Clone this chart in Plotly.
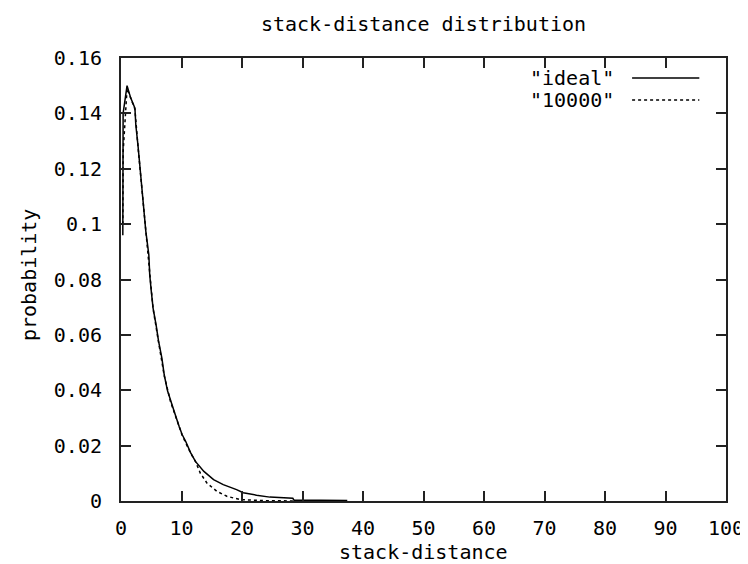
import plotly.graph_objects as go

# ---- data ----
ideal_x = [0.3, 0.35, 1.0, 1.6, 2.3, 2.45, 2.8, 3.1, 3.4, 3.8, 4.1, 4.6, 4.75, 5.0, 5.3,
           5.8, 6.2, 6.75, 7.15, 7.7, 8.2, 9.0, 9.6, 10.1, 10.7, 11.5, 12.3, 13.7, 15.3,
           16.9, 19.1, 20.2, 22.4, 24.6, 28.4, 28.6, 33.0, 37.4]
ideal_y = [0.096, 0.140, 0.150, 0.1456, 0.1419, 0.1358, 0.1286, 0.1214, 0.1141, 0.1047,
           0.0975, 0.0889, 0.0816, 0.0759, 0.0697, 0.0636, 0.0578, 0.0517, 0.0455, 0.0397,
           0.0361, 0.0310, 0.0270, 0.0240, 0.0215, 0.0175, 0.0143, 0.0107, 0.0077, 0.0059,
           0.0041, 0.0030, 0.0021, 0.0014, 0.0010, 0.0003, 0.0003, 0.0002]

sim_x = [0.3, 0.35, 1.0, 1.6, 2.3, 2.8, 3.4, 4.1, 4.75, 5.3, 6.2, 7.15, 8.2, 9.0, 10.1,
         11.5, 12.3, 13.1, 14.2, 15.85, 17.5, 19.7, 24.0, 30.0]
sim_y = [0.100, 0.126, 0.149, 0.1452, 0.1415, 0.1282, 0.1138, 0.0972, 0.0812, 0.0695,
         0.0575, 0.0452, 0.0358, 0.0308, 0.0238, 0.0173, 0.0143, 0.0101, 0.0065, 0.0035,
         0.0017, 0.0005, 0.0001, 0.0000]

series_names = ['"ideal"', '"10000"']
x_ticks = [0, 10, 20, 30, 40, 50, 60, 70, 80, 90, 100]
y_ticks = [0, 0.02, 0.04, 0.06, 0.08, 0.1, 0.12, 0.14, 0.16]
y_tick_labels = ["0", "0.02", "0.04", "0.06", "0.08", "0.1", "0.12", "0.14", "0.16"]

FONT = "DejaVu Sans Mono"
FS = 20
fig = go.Figure()
fig.add_trace(go.Scatter(x=ideal_x, y=ideal_y, mode="lines", name=series_names[0],
                         line=dict(color="black", width=1.5), showlegend=False))
fig.add_trace(go.Scatter(x=sim_x, y=sim_y, mode="lines", name=series_names[1],
                         line=dict(color="black", width=1.5, dash="dot"), showlegend=False))

W, H = 748, 564
L, R, T, B = 113, 23, 50, 71
pw, ph = W - L - R, H - T - B

def px(xp):
    return (xp - L) / pw

def py(yp):
    return (H - B - yp) / ph

axis_common = dict(showgrid=False, zeroline=False, showline=True, linecolor="#222",
                   linewidth=2, mirror="ticks", ticks="inside", ticklen=10, tickwidth=2,
                   tickcolor="#222", tickfont=dict(family=FONT, size=FS, color="black"))

fig.update_layout(
    width=W, height=H,
    margin=dict(l=L, r=R, t=T, b=B),
    paper_bgcolor="white", plot_bgcolor="white",
    font=dict(family=FONT, size=FS, color="black"),
    title=dict(text="stack-distance distribution", x=px(419), xref="paper",
               xanchor="center", y=1 - 16 / H, yanchor="middle",
               font=dict(family=FONT, size=FS, color="black")),
    xaxis=dict(range=[0, 100], tickvals=x_ticks, ticktext=[str(v) for v in x_ticks],
               ticklabelstandoff=8, **axis_common),
    yaxis=dict(range=[0, 0.16], tickvals=y_ticks, ticktext=y_tick_labels,
               ticklabelstandoff=13, **axis_common),
    showlegend=False,
)

annotations = [
    dict(text="stack-distance", xref="paper", yref="paper", x=px(419), y=py(544),
         xanchor="center", yanchor="middle", showarrow=False,
         font=dict(family=FONT, size=FS, color="black")),
    dict(text="probability", xref="paper", yref="paper", x=px(20), y=py(267),
         xanchor="center", yanchor="middle", textangle=-90, showarrow=False,
         font=dict(family=FONT, size=FS, color="black")),
    dict(text=series_names[0], xref="paper", yref="paper", x=px(614), y=py(70),
         xanchor="right", yanchor="middle", showarrow=False,
         font=dict(family=FONT, size=FS, color="black")),
    dict(text=series_names[1], xref="paper", yref="paper", x=px(614), y=py(92),
         xanchor="right", yanchor="middle", showarrow=False,
         font=dict(family=FONT, size=FS, color="black")),
]
fig.update_layout(annotations=annotations)

fig.add_shape(type="line", xref="paper", yref="paper", x0=px(630), x1=px(698),
              y0=py(70), y1=py(70), line=dict(color="black", width=1.5))
fig.add_shape(type="line", xref="paper", yref="paper", x0=px(630), x1=px(698),
              y0=py(92), y1=py(92), line=dict(color="black", width=1.5, dash="dot"))

fig.write_html("out.html")
